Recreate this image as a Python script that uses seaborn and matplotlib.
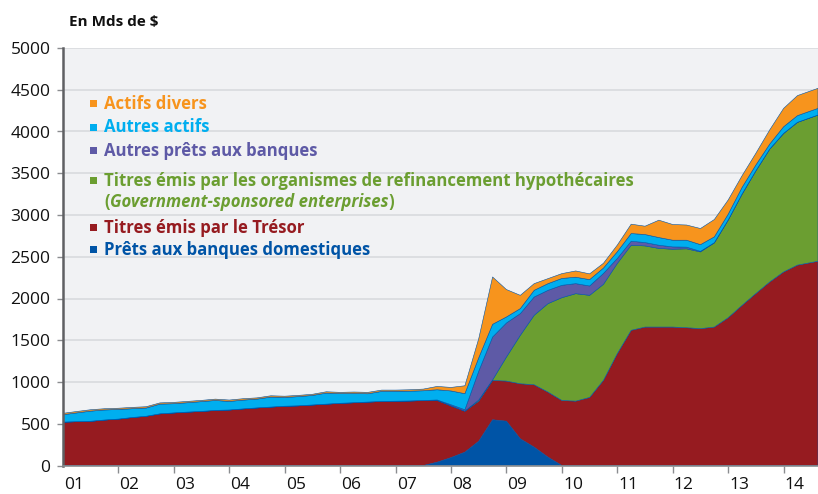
import numpy as np
import pandas as pd
import matplotlib
matplotlib.use('Agg')
import matplotlib.pyplot as plt
from matplotlib.patches import Rectangle
import seaborn as sns

# Dates: quarterly from 2001, last observation mid-August 2014
dates = list(np.arange(2001.0, 2014.3, 0.25)) + [2014.62]

prets_domestiques = [0, 0, 0, 0, 0, 0, 0, 0, 0, 0, 0, 0, 0, 0, 0, 0, 0, 0, 0, 0,
                     0, 0, 0, 0, 0, 0, 0, 40, 95, 160, 291, 548, 531, 320, 220, 100,
                     0, 0, 0, 0, 0, 0, 0, 0, 0, 0, 0, 0, 0, 0, 0, 0, 0, 0, 0]
tresor = [520, 525, 530, 545, 556, 575, 590, 619, 630, 640, 648, 660, 665, 678, 690,
          700, 710, 715, 725, 735, 745, 752, 760, 767, 770, 773, 778,
          740, 620, 491, 480, 471, 480, 659, 747, 779, 779,
          771, 815, 1020, 1340, 1619, 1658, 1658, 1658, 1650, 1639, 1658, 1770, 1918,
          2060, 2198, 2318, 2400, 2446]
gse = [0, 0, 0, 0, 0, 0, 0, 0, 0, 0, 0, 0, 0, 0, 0, 0, 0, 0, 0, 0,
       0, 0, 0, 0, 0, 0, 0, 0, 0, 0, 14, 6, 288, 580, 832, 1060, 1231, 1287, 1223, 1150,
       1080, 1019, 972, 942, 932, 945, 919, 1008, 1170, 1332, 1470, 1592, 1659, 1710, 1751]
autres_prets = [0, 0, 0, 0, 0, 0, 0, 0, 0, 0, 0, 0, 0, 0, 0, 0, 0, 0, 0, 0,
                0, 0, 0, 0, 0, 0, 0, 5, 13, 17, 345, 514, 408, 260, 219, 159, 148, 120, 112, 130,
                60, 48, 40, 38, 28, 20, 7, 2, 0, 0, 0, 0, 0, 0, 0]
autres_actifs = [88, 105, 121, 120, 115, 105, 98, 116, 110, 112, 117, 119, 102, 105, 105,
                 119, 105, 110, 114, 132, 115, 110, 99, 120, 118, 117, 117,
                 122, 165, 192, 160, 152, 72, 60, 80, 80, 82, 77, 76, 65,
                 80, 92, 96, 92, 80, 83, 80, 70, 70, 80, 70, 60, 80, 80, 80]
actifs_divers = [17, 17, 17, 15, 15, 16, 16, 15, 16, 16, 15, 16, 17, 17, 15,
                 16, 15, 15, 14, 16, 16, 18, 17, 16, 15, 17, 20,
                 40, 42, 95, 230, 567, 328, 159, 80, 60, 58, 75, 69, 57,
                 80, 112, 100, 208, 188, 182, 193, 208, 170, 140, 140, 170, 220, 240, 240]

year_labels = ['01', '02', '03', '04', '05', '06', '07', '08', '09', '10', '11', '12', '13', '14']

series = ['Prêts aux banques domestiques', 'Titres émis par le Trésor',
          'Titres émis par les organismes de refinancement hypothécaires',
          'Autres prêts aux banques', 'Autres actifs', 'Actifs divers']
df = pd.DataFrame({
    series[0]: prets_domestiques,
    series[1]: tresor,
    series[2]: gse,
    series[3]: autres_prets,
    series[4]: autres_actifs,
    series[5]: actifs_divers,
}, index=dates)

colors = ['#0054A6', '#961B20', '#6B9E31', '#5E5AA6', '#00AEEF', '#F7941D']

sns.set_style('white')
plt.rcParams['font.family'] = ['Open Sans', 'DejaVu Sans']

fig = plt.figure(figsize=(8.18, 4.94), dpi=100)
ax = fig.add_axes([63 / 818, 28.5 / 494, 755 / 818, 417.5 / 494])
ax.set_facecolor('#F1F2F4')

ax.stackplot(df.index, *[df[c] for c in series], colors=colors,
             edgecolors=colors, linewidth=0.4, zorder=2)

ax.set_xlim(2001, 2014.62)
ax.set_ylim(0, 5000)
ax.set_yticks(range(0, 5001, 500))
ax.yaxis.grid(True, color='#DADCDF', linewidth=1.3, zorder=0)
ax.set_axisbelow(True)

# year boundary ticks, labels slightly to the right
ax.set_xticks(range(2002, 2015))
ax.set_xticklabels([])
ax.set_xticks([2001.2 + k for k in range(len(year_labels))], minor=True)
ax.set_xticklabels(year_labels, minor=True)
ax.tick_params(axis='x', which='major', direction='out', length=5, width=1,
               color='#8A8C8F', bottom=True)
ax.tick_params(axis='x', which='minor', length=0, pad=8, labelsize=12.5,
               labelcolor='#111111')
ax.tick_params(axis='y', direction='out', length=4, width=1, color='#8A8C8F',
               left=True, pad=5, labelsize=12.5, labelcolor='#111111')

sns.despine(ax=ax, top=True, right=True)
ax.spines['left'].set_color('#5F6063')
ax.spines['left'].set_linewidth(1.8)
ax.spines['bottom'].set_color('#8A8C8F')
ax.spines['bottom'].set_linewidth(1.2)
ax.spines['left'].set_zorder(5)
ax.spines['bottom'].set_zorder(5)

fig.text(69 / 818, 1 - 26 / 494, 'En Mds de $', fontsize=11, fontweight='bold',
         color='#111111', va='baseline')

# legend drawn as coloured text
W, H = 818, 494
fs = 12.1
legend_rows = [
    (series[5], colors[5], 109),
    (series[4], colors[4], 132.5),
    (series[3], colors[3], 156),
    (series[2], colors[2], 185.5),
    (series[1], colors[1], 233),
    (series[0], colors[0], 255),
]
for label, col, base in legend_rows:
    fig.add_artist(Rectangle((90 / W, 1 - (base - 2) / H), 7 / W, 7 / H,
                             transform=fig.transFigure, color=col, lw=0))
    fig.text(104.5 / W, 1 - base / H, label, fontsize=fs, fontweight='bold',
             color=col, va='baseline')

renderer = fig.canvas.get_renderer()
base = 207
t1 = fig.text(104.5 / W, 1 - base / H, '(', fontsize=fs, fontweight='bold',
              color=colors[2], va='baseline')
bb = t1.get_window_extent(renderer)
t2 = fig.text(bb.x1 / W, 1 - base / H, 'Government-sponsored enterprises',
              fontsize=fs, fontweight='bold', style='italic', color=colors[2],
              va='baseline')
bb = t2.get_window_extent(renderer)
fig.text(bb.x1 / W, 1 - base / H, ')', fontsize=fs, fontweight='bold',
         color=colors[2], va='baseline')

fig.savefig('out.png', dpi=100, facecolor='white')
plt.close(fig)
